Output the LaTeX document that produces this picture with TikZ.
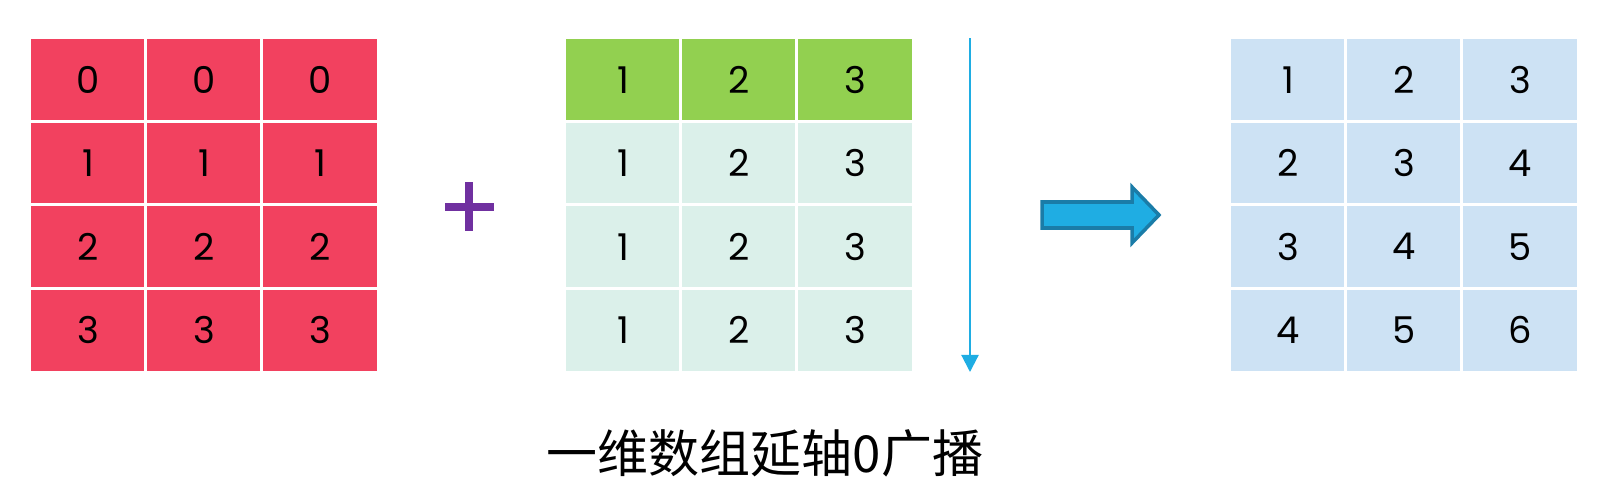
\documentclass[tikz,border=0pt]{standalone}
\usepackage{fontspec}
\setmainfont{Poppins}
\newfontfamily\cjk{Noto Sans CJK SC}
\usetikzlibrary{arrows.meta}

\definecolor{redcell}{HTML}{F2415F}
\definecolor{greencell}{HTML}{92D050}
\definecolor{mintcell}{HTML}{DBF0EA}
\definecolor{bluecell}{HTML}{CDE2F4}
\definecolor{plusviolet}{HTML}{7030A0}
\definecolor{axisblue}{HTML}{1FADE3}
\definecolor{arrowedge}{HTML}{1A7CA8}

\begin{document}
\begin{tikzpicture}[x=0.01cm, y=-0.01cm,
    cell/.style={draw=white, line width=0.9pt, minimum width=1.17cm,
      minimum height=0.84cm, inner sep=0pt, font=\fontsize{10.5}{12}\selectfont},
    axisarrow/.style={draw=axisblue, line width=0.6pt,
      -{Triangle[width=0.17cm, length=0.17cm]}},
    fatarrow/.style={fill=axisblue, draw=arrowedge, line width=1pt, line join=miter},
    plussign/.style={draw=plusviolet, line width=2pt}]
  \useasboundingbox (0, 0) rectangle (1603, 500);

  % the three 4x3 arrays
  \foreach \r in {0,...,3}
    \foreach \c in {0,...,2} {
      \pgfmathtruncatemacro\colval{\c + 1}
      \pgfmathtruncatemacro\sumval{\r + \c + 1}
      \node[cell, fill=redcell] (a-\r-\c) at (88 + 116 * \c, 79.75 + 83.5 * \r) {\r};
      \ifnum\r=0
        \node[cell, fill=greencell] (b-\r-\c) at (623 + 116 * \c, 79.75 + 83.5 * \r) {\colval};
      \else
        \node[cell, fill=mintcell] (b-\r-\c) at (623 + 116 * \c, 79.75 + 83.5 * \r) {\colval};
      \fi
      \node[cell, fill=bluecell] (c-\r-\c) at (1288 + 116 * \c, 79.75 + 83.5 * \r) {\sumval};
    }

  % plus sign
  \draw[plussign] (445, 207) -- (494, 207);
  \draw[plussign] (469, 182) -- (469, 231);

  % broadcast direction along axis 0
  \coordinate (axis top) at (970, 38);
  \coordinate (axis end) at (970, 372);
  \draw[axisarrow] (axis top) -- (axis end);

  % result arrow
  \draw[fatarrow] (1042, 202) -- (1132, 202) -- (1132, 187) -- (1159, 215)
    -- (1132, 243) -- (1132, 228) -- (1042, 228) -- cycle;

  \node[font=\cjk\fontsize{14.5}{16}\selectfont] (caption) at (765, 453) {一维数组延轴0广播};
\end{tikzpicture}
\end{document}
